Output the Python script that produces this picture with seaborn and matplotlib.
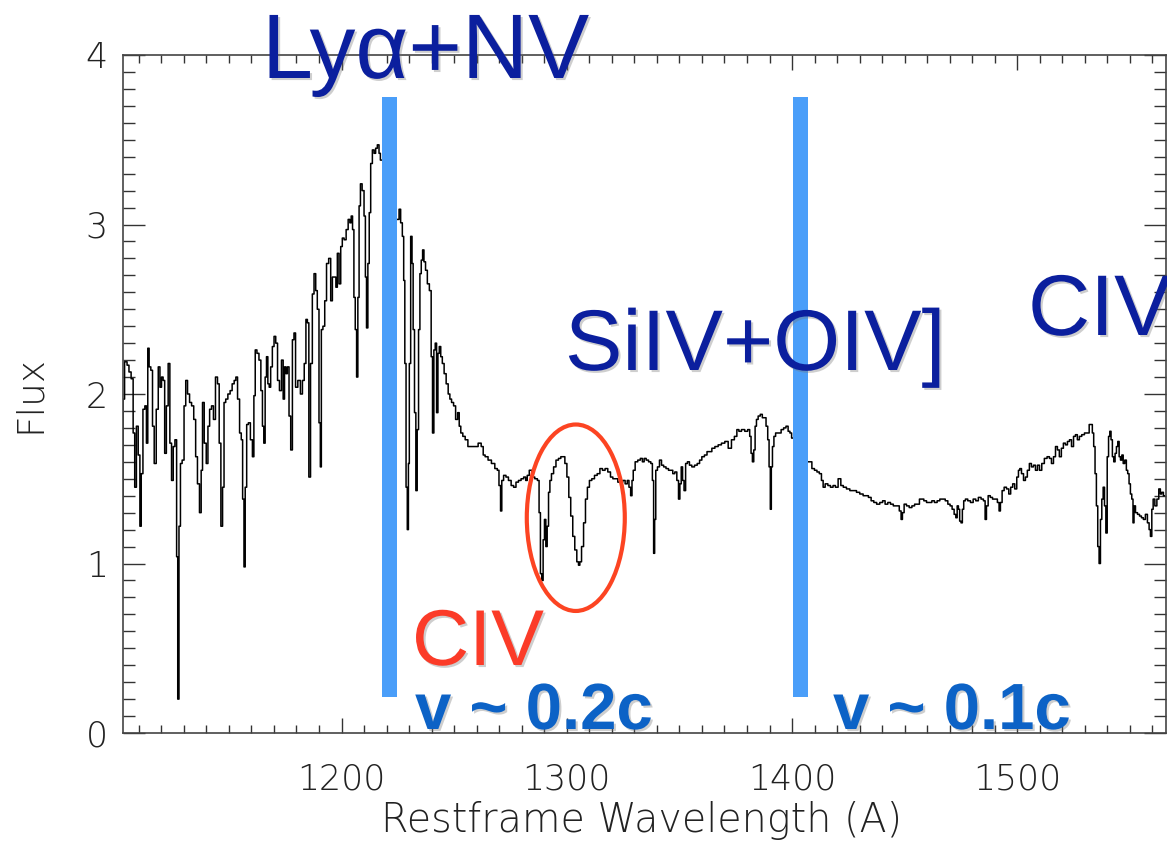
import matplotlib
matplotlib.use("Agg")
import matplotlib.pyplot as plt
import matplotlib.patheffects as pe
from matplotlib.patches import Rectangle, Ellipse
from matplotlib.ticker import MultipleLocator, FormatStrFormatter
import pandas as pd
import seaborn as sns

# Quasar spectrum, rest-frame wavelength (A) and flux, split by region
lya_forest = [
    (1102.9, 1.10), (1103.1, 1.97), (1104.3, 2.19), (1105.3, 2.17), (1106.0, 2.13), (1107.2, 2.09),
    (1107.8, 1.77), (1108.6, 1.45), (1109.3, 1.81), (1110.2, 1.64), (1110.8, 1.22), (1111.4, 1.53),
    (1112.3, 1.91), (1113.1, 1.93), (1113.7, 1.71), (1114.3, 2.27), (1114.9, 2.16), (1115.8, 2.14),
    (1116.4, 1.81), (1117.3, 1.59), (1118.2, 1.91), (1119.1, 2.16), (1119.7, 2.04), (1120.5, 2.10),
    (1121.1, 2.08), (1121.9, 1.65), (1122.6, 1.93), (1123.5, 2.18), (1124.1, 1.71), (1125.0, 1.49),
    (1125.6, 1.69), (1126.5, 1.73), (1127.1, 1.04), (1127.5, 0.20), (1128.2, 1.22), (1128.8, 1.59),
    (1129.7, 1.61), (1130.5, 1.93), (1131.2, 2.08), (1132.1, 2.00), (1133.0, 1.95), (1133.9, 1.93),
    (1134.9, 1.85), (1135.6, 1.63), (1136.5, 1.47), (1137.4, 1.30), (1138.0, 1.55), (1138.6, 1.95),
    (1139.5, 1.71), (1140.4, 1.59), (1141.0, 1.81), (1141.9, 1.91), (1142.7, 1.93), (1143.6, 1.85),
    (1144.5, 2.10), (1145.4, 2.06), (1146.0, 1.71), (1146.9, 1.22), (1147.5, 1.45), (1148.2, 1.95),
    (1149.0, 1.97), (1150.1, 2.00), (1151.0, 2.02), (1151.9, 2.06), (1152.8, 2.08), (1153.4, 2.10),
    (1154.3, 1.97), (1155.2, 1.77), (1155.8, 1.73), (1156.4, 1.38), (1157.0, 0.98), (1157.5, 1.45),
    (1158.3, 1.82), (1159.0, 1.83), (1160.1, 1.73), (1160.8, 1.63), (1161.4, 1.99), (1162.0, 2.26),
    (1162.9, 2.24), (1163.8, 2.20), (1164.6, 2.02), (1165.2, 1.81), (1165.8, 1.71), (1166.4, 2.10),
    (1167.0, 2.22), (1167.6, 2.06), (1168.2, 2.04), (1168.9, 2.16), (1169.7, 2.28), (1170.4, 2.34),
    (1171.2, 2.30), (1172.0, 2.08), (1172.9, 2.02), (1173.8, 2.20), (1174.4, 1.97), (1175.0, 2.16),
    (1175.6, 2.12), (1176.3, 2.16), (1177.1, 1.87), (1177.8, 1.67), (1178.6, 2.32), (1179.2, 2.36),
    (1180.0, 2.04), (1181.2, 2.08), (1182.3, 2.00), (1183.0, 2.08), (1183.9, 2.18), (1184.5, 2.44),
    (1185.2, 2.42),
]

lya_nv_peak = [
    (1185.8, 1.51), (1186.7, 2.18), (1187.4, 2.59), (1188.2, 2.71), (1188.9, 2.61), (1189.6, 2.50),
    (1190.4, 1.83), (1190.8, 1.57), (1191.3, 2.38), (1192.2, 2.40), (1192.9, 2.55), (1193.8, 2.77),
    (1194.8, 2.80), (1195.6, 2.55), (1196.3, 2.69), (1197.2, 2.69), (1197.8, 2.63), (1198.5, 2.83),
    (1199.3, 2.65), (1200.0, 2.87), (1200.7, 2.92), (1201.6, 2.91), (1202.5, 2.97), (1203.4, 3.03),
    (1204.0, 3.01), (1204.6, 3.05), (1205.2, 2.97), (1205.8, 2.57), (1206.4, 2.38), (1207.0, 2.10),
    (1207.5, 2.57), (1208.1, 3.11), (1208.7, 3.24), (1209.6, 3.20), (1210.4, 3.05), (1210.8, 2.69),
    (1211.4, 2.39), (1212.0, 2.77), (1212.6, 3.07), (1213.3, 3.36), (1214.1, 3.44), (1214.8, 3.42),
    (1215.5, 3.45), (1216.3, 3.47), (1217.0, 3.42), (1217.5, 3.38), (1221.0, 3.20), (1225.2, 3.03),
    (1225.9, 3.09), (1226.6, 3.01), (1227.4, 2.93), (1227.8, 2.67), (1228.4, 2.18), (1228.9, 1.45),
    (1229.5, 1.20), (1229.9, 1.59), (1230.3, 2.18), (1231.1, 2.93), (1231.5, 2.77), (1232.1, 2.38),
    (1232.7, 1.89), (1233.3, 1.43), (1233.9, 1.79), (1234.5, 2.38), (1235.1, 2.71), (1235.7, 2.79),
    (1236.3, 2.85), (1236.9, 2.78), (1237.7, 2.73), (1238.5, 2.65), (1239.5, 2.61), (1240.1, 2.22),
    (1240.7, 1.77), (1241.3, 2.26), (1241.9, 2.30), (1242.5, 1.89), (1243.1, 2.24), (1243.7, 2.28),
    (1244.4, 2.22), (1245.1, 2.18), (1246.0, 2.12), (1246.9, 2.06), (1247.8, 2.00), (1248.4, 1.97),
    (1249.3, 1.95), (1250.2, 1.93), (1251.1, 1.85), (1252.0, 1.89), (1252.5, 1.81), (1253.4, 1.77),
    (1254.3, 1.75), (1255.5, 1.73), (1256.7, 1.69),
]

siiv_region = [
    (1258.4, 1.69), (1259.9, 1.69), (1261.4, 1.71), (1262.6, 1.69), (1263.2, 1.64), (1264.3, 1.63),
    (1265.8, 1.61), (1267.3, 1.59), (1268.8, 1.56), (1269.5, 1.55), (1270.3, 1.46), (1270.9, 1.31),
    (1271.4, 1.49), (1272.5, 1.52), (1273.5, 1.51), (1274.7, 1.49), (1275.9, 1.46), (1276.9, 1.45),
    (1278.0, 1.48), (1279.1, 1.49), (1280.3, 1.50), (1281.4, 1.51), (1282.1, 1.49), (1282.8, 1.52),
    (1283.9, 1.55), (1285.1, 1.51), (1286.5, 1.50), (1287.4, 1.49), (1288.0, 1.30), (1288.6, 0.94),
    (1289.2, 0.90), (1289.8, 1.14), (1290.4, 1.26), (1291.0, 1.10), (1291.6, 1.22), (1292.2, 1.42),
    (1292.8, 1.49), (1293.6, 1.53), (1294.7, 1.57), (1295.7, 1.61), (1296.9, 1.62), (1297.8, 1.63),
    (1298.7, 1.63), (1299.6, 1.59), (1300.5, 1.51), (1301.3, 1.39), (1302.2, 1.28), (1303.1, 1.16),
    (1304.0, 1.08), (1304.9, 1.01), (1305.5, 0.99), (1306.1, 1.01), (1307.0, 1.10), (1307.9, 1.24),
    (1308.7, 1.38), (1309.6, 1.45), (1310.5, 1.49), (1311.7, 1.50), (1312.9, 1.52), (1314.1, 1.53),
    (1315.3, 1.56), (1316.4, 1.55), (1317.6, 1.56), (1318.8, 1.54), (1320.0, 1.51), (1320.9, 1.50),
    (1322.1, 1.50), (1323.2, 1.48), (1324.4, 1.48), (1325.3, 1.49), (1326.5, 1.47), (1327.2, 1.49),
    (1328.0, 1.45), (1328.7, 1.40), (1329.2, 1.49), (1329.8, 1.55), (1330.9, 1.60), (1332.1, 1.61),
    (1333.2, 1.62), (1333.9, 1.60), (1334.8, 1.62), (1335.7, 1.61), (1336.9, 1.60), (1337.7, 1.59),
    (1338.3, 1.49), (1338.8, 1.06), (1339.2, 1.26), (1339.8, 1.55), (1340.7, 1.57), (1341.6, 1.61),
    (1342.5, 1.58), (1343.5, 1.57), (1344.6, 1.56), (1345.7, 1.55), (1346.6, 1.55), (1347.5, 1.53),
    (1348.4, 1.54), (1349.3, 1.49), (1349.9, 1.38), (1350.5, 1.47), (1351.1, 1.57), (1351.7, 1.49),
    (1352.4, 1.43), (1353.1, 1.59), (1354.0, 1.60), (1354.9, 1.58), (1356.1, 1.57), (1357.3, 1.58),
    (1358.5, 1.59), (1359.4, 1.61), (1360.5, 1.63), (1361.7, 1.64), (1362.8, 1.66), (1363.8, 1.66),
    (1365.0, 1.68), (1366.5, 1.69), (1367.9, 1.70), (1369.4, 1.71), (1370.9, 1.72),
]

oiv_region = [
    (1372.4, 1.68), (1373.8, 1.73), (1375.0, 1.75), (1376.0, 1.79), (1376.8, 1.78), (1378.3, 1.79),
    (1379.7, 1.78), (1380.9, 1.79), (1381.5, 1.75), (1382.1, 1.65), (1382.7, 1.60), (1383.3, 1.67),
    (1383.9, 1.81), (1384.5, 1.85), (1385.4, 1.87), (1386.4, 1.88), (1387.2, 1.86), (1388.0, 1.86),
    (1388.9, 1.81), (1389.5, 1.73), (1390.1, 1.57), (1390.6, 1.32), (1391.0, 1.57), (1391.6, 1.69),
    (1392.3, 1.75), (1393.1, 1.77), (1394.6, 1.77), (1395.7, 1.79), (1396.8, 1.80), (1397.8, 1.81),
    (1398.7, 1.78), (1399.4, 1.77), (1400.2, 1.74), (1404.0, 1.66), (1408.2, 1.60), (1409.4, 1.56),
    (1410.5, 1.55), (1411.6, 1.54), (1412.6, 1.53), (1413.5, 1.49), (1414.1, 1.45), (1415.3, 1.47),
    (1416.5, 1.46), (1417.6, 1.45), (1418.8, 1.46), (1419.7, 1.45), (1421.2, 1.50), (1422.1, 1.46),
    (1423.4, 1.45), (1424.9, 1.44), (1426.4, 1.43), (1427.9, 1.43), (1429.3, 1.42), (1430.8, 1.41),
    (1432.3, 1.40), (1433.3, 1.40), (1434.5, 1.39), (1435.7, 1.37), (1436.9, 1.36), (1438.2, 1.35),
    (1439.7, 1.36), (1440.7, 1.37), (1441.9, 1.35), (1443.1, 1.36), (1444.3, 1.35), (1445.6, 1.34),
    (1447.1, 1.34), (1448.1, 1.31), (1448.7, 1.26), (1449.3, 1.30), (1450.2, 1.35), (1451.4, 1.34),
    (1452.6, 1.33), (1453.8, 1.34), (1455.0, 1.35), (1456.1, 1.35), (1457.0, 1.38), (1457.9, 1.38),
    (1459.1, 1.37), (1460.3, 1.36), (1461.5, 1.36), (1462.6, 1.37), (1463.8, 1.36), (1465.0, 1.37),
    (1466.2, 1.38), (1467.4, 1.38), (1468.6, 1.37), (1469.7, 1.35),
]

civ_region = [
    (1470.6, 1.34), (1471.5, 1.32), (1472.4, 1.29), (1473.0, 1.27), (1473.6, 1.34), (1474.1, 1.32),
    (1474.7, 1.25), (1475.3, 1.24), (1475.9, 1.32), (1476.5, 1.37), (1477.4, 1.38), (1478.6, 1.37),
    (1479.8, 1.36), (1481.0, 1.38), (1482.1, 1.37), (1483.3, 1.39), (1484.5, 1.38), (1485.4, 1.37),
    (1486.0, 1.26), (1486.6, 1.34), (1487.5, 1.40), (1488.5, 1.39), (1489.5, 1.38), (1490.7, 1.38),
    (1491.6, 1.36), (1492.2, 1.31), (1492.8, 1.36), (1493.7, 1.43), (1494.6, 1.45), (1495.8, 1.44),
    (1496.6, 1.41), (1497.5, 1.45), (1498.4, 1.47), (1499.3, 1.44), (1500.2, 1.51), (1500.8, 1.55),
    (1501.4, 1.56), (1502.3, 1.53), (1503.2, 1.49), (1504.0, 1.51), (1504.9, 1.55), (1505.8, 1.59),
    (1506.7, 1.57), (1507.6, 1.58), (1508.5, 1.55), (1509.4, 1.58), (1510.3, 1.55), (1511.4, 1.59),
    (1512.6, 1.62), (1513.8, 1.63), (1514.7, 1.62), (1515.6, 1.59), (1516.5, 1.63), (1517.4, 1.69),
    (1518.2, 1.67), (1519.1, 1.63), (1520.0, 1.68), (1520.9, 1.71), (1521.8, 1.70), (1522.7, 1.72),
    (1523.6, 1.73), (1524.5, 1.69), (1525.4, 1.75), (1526.2, 1.76), (1527.1, 1.73), (1528.0, 1.75),
    (1529.2, 1.76), (1530.4, 1.77), (1531.6, 1.77), (1532.2, 1.82), (1533.0, 1.82), (1533.6, 1.77),
    (1534.2, 1.69), (1534.8, 1.53), (1535.4, 1.34), (1536.0, 1.10), (1536.6, 1.00), (1537.2, 1.26),
    (1537.8, 1.38), (1538.4, 1.45), (1539.0, 1.34), (1539.6, 1.18), (1540.2, 1.63), (1540.8, 1.75),
    (1541.3, 1.78), (1541.9, 1.73), (1542.5, 1.63), (1543.1, 1.60), (1543.7, 1.65), (1544.3, 1.69),
    (1544.9, 1.72), (1545.5, 1.63), (1546.1, 1.61), (1546.7, 1.64), (1547.3, 1.59), (1548.1, 1.61),
    (1548.7, 1.55), (1549.3, 1.53), (1549.9, 1.47), (1550.5, 1.41), (1551.1, 1.38), (1551.6, 1.24),
    (1552.0, 1.34), (1552.9, 1.30), (1553.8, 1.29), (1554.7, 1.28), (1555.5, 1.27), (1556.4, 1.26),
    (1557.3, 1.29), (1558.2, 1.24), (1558.8, 1.20), (1559.4, 1.16), (1560.0, 1.32), (1560.6, 1.38),
    (1561.5, 1.34), (1562.4, 1.38), (1563.2, 1.44), (1563.8, 1.41), (1564.4, 1.42), (1565.3, 1.40),
]

# Outflow markers: wavelength span of each blue bar and its vertical extent
bar_spans = [(1217.9, 1224.5), (1400.4, 1407.1)]
bar_flux_range = (0.21, 3.75)
# Ellipse around the blueshifted CIV trough: centre, width, height
trough_ellipse = (1304.0, 1.27, 43.5, 1.10)

x_limits = (1103.0, 1566.0)
y_limits = (0.0, 4.0)

spectrum = pd.DataFrame(
    lya_forest + lya_nv_peak + siiv_region + oiv_region + civ_region,
    columns=["wavelength", "flux"],
)

sns.set_style("ticks")
plt.rcParams["font.family"] = ["DejaVu Sans"]

W, H = 1167, 843
fig = plt.figure(figsize=(W / 100, H / 100), dpi=100)
ax = fig.add_axes([123 / W, (H - 733) / H, (1166 - 123) / W, (733 - 55) / H])

sns.lineplot(data=spectrum, x="wavelength", y="flux", ax=ax, color="black",
             linewidth=1.1, drawstyle="steps-mid", estimator=None, sort=False)

ax.set_xlim(*x_limits)
ax.set_ylim(*y_limits)

ax.xaxis.set_major_locator(MultipleLocator(100))
ax.xaxis.set_minor_locator(MultipleLocator(10))
ax.yaxis.set_major_locator(MultipleLocator(1))
ax.yaxis.set_minor_locator(MultipleLocator(0.1))
ax.yaxis.set_major_formatter(FormatStrFormatter("%d"))

tick_color = "#333333"
ax.tick_params(which="both", direction="in", top=True, right=True,
               color=tick_color, width=1.0, labelcolor="#222222")
ax.tick_params(axis="y", which="major", length=16, pad=11, labelsize=25)
ax.tick_params(axis="y", which="minor", length=8.5)
ax.tick_params(axis="x", which="major", length=11, pad=21, labelsize=25)
ax.tick_params(axis="x", which="minor", length=5.5)
for lab in ax.get_xticklabels() + ax.get_yticklabels():
    lab.set_fontweight(200)
for s in ax.spines.values():
    s.set_color("#444444")
    s.set_linewidth(1.2)

ax.set_xlabel("Restframe Wavelength (A)", fontsize=28.5, color="#222222", fontweight=200)
ax.set_ylabel("Flux", fontsize=27, color="#222222", fontweight=200)
ax.xaxis.set_label_coords(0.497, -0.1)
ax.yaxis.set_label_coords(-0.073, 0.5)

bar_color = "#4a9ef9"
for lo, hi in bar_spans:
    ax.add_patch(Rectangle((lo, bar_flux_range[0]), hi - lo,
                           bar_flux_range[1] - bar_flux_range[0],
                           facecolor=bar_color, edgecolor="none", zorder=5, clip_on=False))

cx, cy, ew, eh = trough_ellipse
ax.add_patch(Ellipse((cx, cy), ew, eh, facecolor="none", edgecolor="#fc4422",
                     linewidth=3.0, zorder=6))

shadow = [pe.withSimplePatchShadow(offset=(1.5, -1.5), shadow_rgbFace=(0.45, 0.45, 0.45), alpha=0.35)]


def label(px, py, text, size, color, weight="normal"):
    fig.text(px / W, 1 - py / H, text, fontsize=size, color=color, fontweight=weight,
             family=["Liberation Sans", "DejaVu Sans"], ha="left", va="baseline",
             path_effects=shadow, zorder=10)


navy = "#0b1f9e"
label(262, 78, "Lyα+NV", 66, navy)
label(565, 370, "SiIV+OIV]", 62, navy)
label(1028, 335, "CIV", 62, navy)
label(412, 665, "CIV", 57, "#fb3b28")
label(415, 729, "v ~ 0.2c", 47, "#0c62c6", "bold")
label(833, 729, "v ~ 0.1c", 47, "#0c62c6", "bold")

fig.savefig("out.png", dpi=100)
